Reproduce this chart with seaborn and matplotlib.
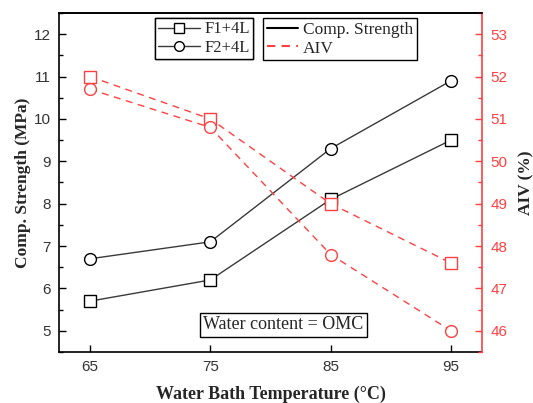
import matplotlib
matplotlib.use("Agg")
import matplotlib.pyplot as plt
import seaborn as sns
import pandas as pd
from matplotlib.lines import Line2D
from matplotlib.ticker import MultipleLocator

temps = [65, 75, 85, 95]
f1_comp = [5.7, 6.2, 8.1, 9.5]
f2_comp = [6.7, 7.1, 9.3, 10.9]
f1_aiv = [52.0, 51.0, 49.0, 47.6]
f2_aiv = [51.7, 50.8, 47.8, 46.0]

sns.set_style("ticks")
plt.rcParams['font.family'] = ['Liberation Sans', 'DejaVu Sans']

RED = '#ff4040'
GRAY = '#3a3a3a'

fig = plt.figure(figsize=(5.33, 4.03), dpi=100)
ax = fig.add_axes([0.1107, 0.1266, 0.7936, 0.8411])
ax2 = ax.twinx()

df = pd.DataFrame({'T': temps, 'f1c': f1_comp, 'f2c': f2_comp, 'f1a': f1_aiv, 'f2a': f2_aiv})

mk = dict(markersize=8.5, markerfacecolor='white', markeredgewidth=1.0)
sns.lineplot(data=df, x='T', y='f1c', ax=ax, color=GRAY, lw=1.0, marker='s',
             markeredgecolor='black', **mk)
sns.lineplot(data=df, x='T', y='f2c', ax=ax, color=GRAY, lw=1.0, marker='o',
             markeredgecolor='black', **mk)
sns.lineplot(data=df, x='T', y='f1a', ax=ax2, color=RED, lw=1.0, ls=(0, (5, 4)), marker='s',
             markeredgecolor=RED, **mk)
sns.lineplot(data=df, x='T', y='f2a', ax=ax2, color=RED, lw=1.0, ls=(0, (5, 4)), marker='o',
             markeredgecolor=RED, **mk)

ax.set_xlim(62.42, 97.58)
ax.set_ylim(4.5, 12.5)
ax2.set_ylim(45.5, 53.5)
ax.set_xticks(temps)
ax.yaxis.set_major_locator(MultipleLocator(1))
ax.yaxis.set_minor_locator(MultipleLocator(0.5))
ax2.yaxis.set_major_locator(MultipleLocator(1))
ax2.yaxis.set_minor_locator(MultipleLocator(0.5))

ax.tick_params(axis='both', which='major', direction='in', length=5, width=1, labelsize=11,
               colors='black', labelcolor='#333333', pad=6)
ax.tick_params(axis='y', which='minor', direction='in', length=3, width=1, colors='black')
ax2.tick_params(axis='y', which='major', direction='in', length=5, width=1, labelsize=11,
                colors=RED, labelcolor=RED, pad=6)
ax2.tick_params(axis='y', which='minor', direction='in', length=3, width=1, colors=RED)

for s in ['left', 'bottom', 'top']:
    ax.spines[s].set_linewidth(1.2)
    ax.spines[s].set_color('black')
ax2.spines['right'].set_color(RED)
ax2.spines['right'].set_linewidth(1.2)
for s in ['left', 'bottom']:
    ax2.spines[s].set_visible(False)
ax.spines['right'].set_visible(False)
ax2.spines['top'].set_color('black')
ax2.spines['top'].set_linewidth(1.2)

serif = ['Liberation Serif', 'DejaVu Serif']
ax.set_xlabel('Water Bath Temperature (°C)', fontsize=13, fontweight='bold', family=serif, labelpad=8)
ax.set_ylabel('Comp. Strength (MPa)', fontsize=12.5, fontweight='bold', family=serif, labelpad=2)
ax2.set_ylabel('AIV (%)', fontsize=12.5, fontweight='bold', family=serif, labelpad=8)

h1 = [Line2D([], [], color=GRAY, lw=1.0, marker='s', markerfacecolor='white', markeredgecolor='black', markersize=7),
      Line2D([], [], color=GRAY, lw=1.0, marker='o', markerfacecolor='white', markeredgecolor='black', markersize=7)]
leg1 = ax.legend(h1, ['F1+4L', 'F2+4L'], loc='upper left', bbox_to_anchor=(0.218, 0.995),
                 frameon=True, fancybox=False, edgecolor='black', framealpha=1,
                 prop={'family': serif, 'size': 12}, handlelength=2.5, handletextpad=0.3,
                 borderpad=0.2, labelspacing=0.15, borderaxespad=0.2)
leg1.get_frame().set_linewidth(1.0)
ax.add_artist(leg1)

h2 = [Line2D([], [], color='black', lw=1.5),
      Line2D([], [], color=RED, lw=1.5, ls=(0, (4, 3)))]
leg2 = ax2.legend(h2, ['Comp. Strength', 'AIV'], loc='upper left', bbox_to_anchor=(0.475, 0.995),
                  frameon=True, fancybox=False, edgecolor='black', framealpha=1,
                  prop={'family': serif, 'size': 12.5}, handlelength=1.8, handletextpad=0.3,
                  borderpad=0.2, labelspacing=0.15, borderaxespad=0.2)
leg2.get_frame().set_linewidth(1.0)

ax.text(0.531, 0.08, 'Water content = OMC', transform=ax.transAxes, ha='center', va='center',
        fontsize=13, family=serif,
        bbox=dict(boxstyle='square,pad=0.2', facecolor='white', edgecolor='black', lw=1.0))

fig.savefig('out.png', dpi=100)
